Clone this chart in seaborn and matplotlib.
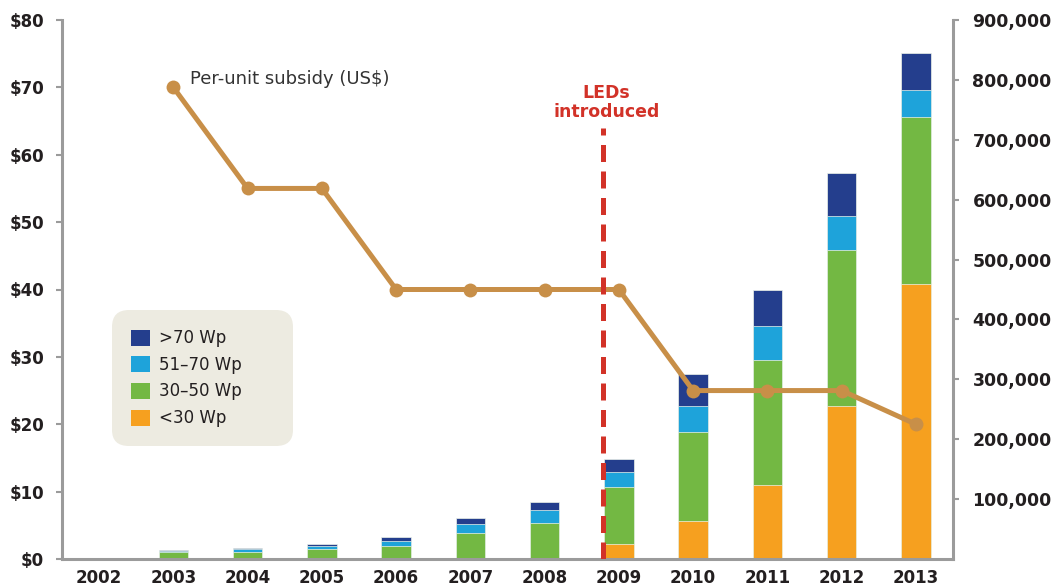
import numpy as np
import pandas as pd
import matplotlib
matplotlib.use("Agg")
import matplotlib.pyplot as plt
import seaborn as sns
from matplotlib.patches import Patch
from matplotlib.ticker import FuncFormatter, FixedLocator

# --- data ---
years = [2002, 2003, 2004, 2005, 2006, 2007, 2008, 2009, 2010, 2011, 2012, 2013]
lt30 = [0, 0, 0, 0, 0, 0, 0, 25500, 63400, 123500, 255400, 458600]
w30_50 = [500, 12000, 12000, 17000, 22000, 44000, 60000, 94700, 148600, 208700, 260400, 278800]
w51_70 = [800, 1000, 4000, 5000, 8300, 14500, 21700, 24500, 43400, 56800, 56800, 45600]
gt70 = [200, 2500, 2000, 3000, 5700, 10000, 13300, 21700, 53400, 60000, 72300, 62300]

subsidy_years = [2003, 2004, 2005, 2006, 2007, 2008, 2009, 2010, 2011, 2012, 2013]
subsidy = [70, 55, 55, 40, 40, 40, 40, 25, 25, 25, 20]

led_year = 2008.79

series_names = [">70 Wp", "51\u201370 Wp", "30\u201350 Wp", "<30 Wp"]
series_colors = ["#243E8D", "#1EA3DA", "#73B843", "#F6A01F"]

df = pd.DataFrame({"year": years, "<30": lt30, "30-50": w30_50, "51-70": w51_70, ">70": gt70})
df["c1"] = df["<30"]
df["c2"] = df["c1"] + df["30-50"]
df["c3"] = df["c2"] + df["51-70"]
df["c4"] = df["c3"] + df[">70"]
line_df = pd.DataFrame({"year": subsidy_years, "subsidy": subsidy})

sns.set_style("white")
plt.rcParams["font.family"] = ["DejaVu Sans"]

text_col = "#231F20"
axis_col = "#9B9B9B"

fig = plt.figure(figsize=(10.52, 5.88), dpi=100)
ax = fig.add_axes([62 / 1052, 29 / 588, 891 / 1052, 539 / 588])
ax2 = ax.twinx()

# stacked bars on the right-hand axis (drawn as cumulative layers)
for col, color in zip(["c4", "c3", "c2", "c1"], series_colors):
    sns.barplot(data=df, x="year", y=col, native_scale=True, color=color,
                width=0.4, saturation=1, edgecolor="#EEF3EA", linewidth=0.5,
                ax=ax2, zorder=2)

# subsidy line on the left-hand axis, drawn above the bars
ax.set_zorder(ax2.get_zorder() + 1)
ax.patch.set_visible(False)
sns.lineplot(data=line_df, x="year", y="subsidy", color="#C88F48", linewidth=3.6,
             marker="o", markersize=10, markeredgewidth=0, ax=ax, zorder=3)

ax.plot([led_year, led_year], [0, 63.9], color="#D23228", linewidth=3.6,
        linestyle=(0, (3.4, 1.9)), zorder=4, solid_capstyle="butt")
ax.text(led_year + 0.04, 65.0, "LEDs\nintroduced", color="#D23228", fontsize=12.5,
        fontweight="bold", ha="center", va="bottom", linespacing=1.1)
ax.text(2003.23, 71.2, "Per-unit subsidy (US$)", color="#333333", fontsize=13,
        ha="left", va="center")

# axes, limits, ticks
ax.set_xlim(2001.5, 2013.5)
ax.set_ylim(0, 80)
ax2.set_ylim(0, 900000)
ax.set_xlabel("")
ax.set_ylabel("")
ax2.set_xlabel("")
ax2.set_ylabel("")

ax.set_xticks(years)
ax.set_xticklabels([str(y) for y in years])
ax.xaxis.set_minor_locator(FixedLocator([y + 0.5 for y in years[:-1]]))
ax.tick_params(axis="x", which="major", length=0, pad=7, labelsize=12,
               labelcolor=text_col)
ax.tick_params(axis="x", which="minor", length=4, width=1.5, color=axis_col,
               direction="out")
for lbl in ax.get_xticklabels():
    lbl.set_fontweight("bold")

ax.set_yticks(range(0, 81, 10))
ax.yaxis.set_major_formatter(FuncFormatter(lambda v, p: f"${v:.0f}"))
ax.tick_params(axis="y", length=4, width=1.5, color=axis_col, pad=9,
               labelsize=12, labelcolor=text_col, direction="out")
for lbl in ax.get_yticklabels():
    lbl.set_fontweight("bold")

ax2.set_yticks(range(100000, 900001, 100000))
ax2.yaxis.set_major_formatter(FuncFormatter(lambda v, p: f"{v:,.0f}"))
ax2.tick_params(axis="y", length=4, width=1.5, color=axis_col, pad=10,
                labelsize=12.5, labelcolor=text_col, direction="out")
for lbl in ax2.get_yticklabels():
    lbl.set_fontweight("bold")

for a in (ax, ax2):
    a.spines["top"].set_visible(False)
    for s in ("left", "right", "bottom"):
        a.spines[s].set_color(axis_col)
        a.spines[s].set_linewidth(2.2)
ax.spines["right"].set_visible(False)
ax2.spines["left"].set_visible(False)
ax2.spines["bottom"].set_visible(False)
ax2.tick_params(axis="x", which="both", length=0, labelbottom=False)

# legend
handles = [Patch(facecolor=c, edgecolor="none") for c in series_colors]
leg = ax.legend(handles, series_names, loc="upper left",
                bbox_to_anchor=(50 / 891, 0.0, 181 / 891, 249 / 539),
                mode="expand", borderaxespad=0, fontsize=12,
                handlelength=1.1, handleheight=1.1, handletextpad=0.55,
                labelspacing=0.52, borderpad=1.15, frameon=True, fancybox=True,
                facecolor="#EDEBE1", edgecolor="none", framealpha=1)
leg.get_frame().set_boxstyle("round", pad=0, rounding_size=1.0)
for t in leg.get_texts():
    t.set_color(text_col)

fig.savefig("out.png", dpi=100)
